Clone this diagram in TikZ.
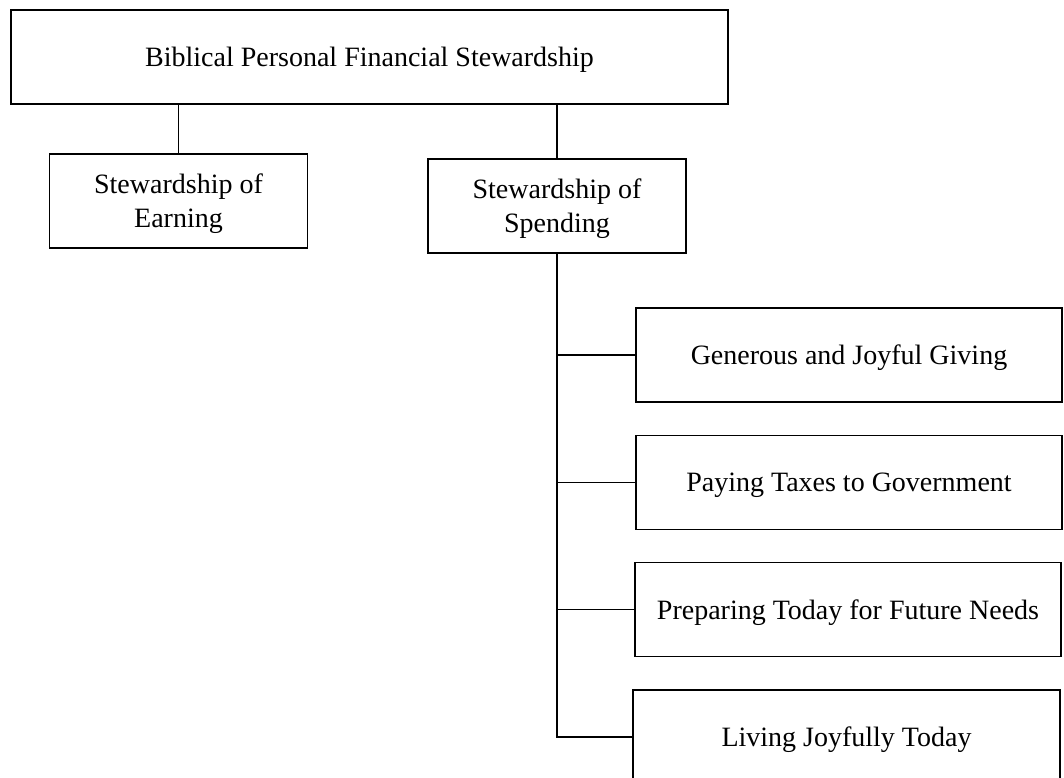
\documentclass[tikz,border=0pt]{standalone}
\usepackage{fontspec}
\setmainfont{Liberation Serif}
\begin{document}
\begin{tikzpicture}[x=1pt,y=-1pt,
  box/.style={draw, line width=1.2pt, inner sep=0pt, outer sep=0pt, align=center,
    text depth=-2pt, font=\fontsize{28}{34}\selectfont},
  wide/.style={box, minimum width=426pt, minimum height=94pt},
  mid/.style={box, minimum width=258pt, minimum height=94pt},
  conn/.style={line width=1.2pt}]
\useasboundingbox (0,0) rectangle (1064,777);
\clip (0,0) rectangle (1064,777);
\node[box, minimum width=717pt, minimum height=94pt] (root) at (369.5,57) {Biblical Personal Financial Stewardship};
\node[mid] (earn) at (178.5,201) {Stewardship of\\Earning};
\node[mid] (spend) at (557,206) {Stewardship of\\Spending};
\node[wide] (gen) at (849,355) {Generous and Joyful Giving};
\node[wide] (tax) at (849,482.5) {Paying Taxes to Government};
\node[wide] (prep) at (848,609.5) {Preparing Today for Future Needs};
\node[wide, minimum width=427pt] (live) at (846.5,737) {Living Joyfully Today};
\draw[conn] (root.south -| earn.north) -- (earn.north);
\draw[conn] (root.south -| spend.north) -- (spend.north);
\draw[conn] (spend.south) |- (live.west);
\draw[conn] (spend.south |- gen.west) -- (gen.west);
\draw[conn] (spend.south |- tax.west) -- (tax.west);
\draw[conn] (spend.south |- prep.west) -- (prep.west);
\end{tikzpicture}
\end{document}
